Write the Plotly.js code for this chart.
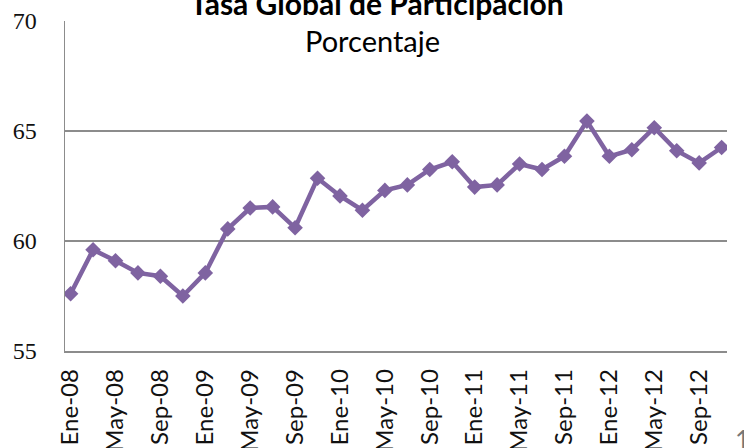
<!DOCTYPE html>
<html>
<head>
<meta charset="utf-8">
<script src="https://cdn.plot.ly/plotly-3.0.1.min.js"></script>
<style>html,body{margin:0;padding:0;background:#fff;}#chart{width:744px;height:448px;}</style>
</head>
<body>
<div id="chart"></div>
<script>
const months = ["Ene-08","Mar-08","May-08","Jul-08","Sep-08","Nov-08",
                "Ene-09","Mar-09","May-09","Jul-09","Sep-09","Nov-09",
                "Ene-10","Mar-10","May-10","Jul-10","Sep-10","Nov-10",
                "Ene-11","Mar-11","May-11","Jul-11","Sep-11","Nov-11",
                "Ene-12","Mar-12","May-12","Jul-12","Sep-12","Nov-12"];
const tasa = [57.6, 59.6, 59.1, 58.55, 58.4, 57.5,
              58.55, 60.55, 61.5, 61.55, 60.6, 62.85,
              62.05, 61.4, 62.3, 62.55, 63.25, 63.6,
              62.45, 62.55, 63.5, 63.25, 63.85, 65.45,
              63.85, 64.15, 65.15, 64.1, 63.55, 64.25];
const tickLabels = ["Ene-08","May-08","Sep-08","Ene-09","May-09","Sep-09","Ene-10","May-10",
                    "Sep-10","Ene-11","May-11","Sep-11","Ene-12","May-12","Sep-12"];
const yTicks = [55, 60, 65, 70];

const trace = {
  x: months, y: tasa, type: 'scatter', mode: 'lines+markers',
  line: {color: '#7f63a1', width: 4.5},
  marker: {symbol: 'diamond', size: 12, color: '#7f63a1'},
  hoverinfo: 'skip'
};

const layout = {
  width: 744, height: 448,
  margin: {l: 65, r: 17, t: 21, b: 97, pad: 0},
  paper_bgcolor: '#ffffff', plot_bgcolor: '#ffffff',
  showlegend: false,
  xaxis: {
    type: 'category', range: [-0.25, 29.24],
    tickmode: 'array', tickvals: tickLabels, ticktext: tickLabels,
    tickangle: -90, tickfont: {family: 'Lato, sans-serif', size: 24, color: '#111'},
    showgrid: false, zeroline: false, ticks: '',
    showline: true, linecolor: '#8c8c8c', linewidth: 1.5,
    ticklabelstandoff: 7
  },
  yaxis: {
    range: [55, 70], tickmode: 'array', tickvals: yTicks,
    tickfont: {family: '"Liberation Serif", "Times New Roman", serif', size: 24, color: '#111'},
    showgrid: true, gridcolor: '#8c8c8c', gridwidth: 1.5,
    zeroline: false, ticks: '',
    showline: true, linecolor: '#8c8c8c', linewidth: 1.5,
    ticklabelstandoff: 22
  },
  annotations: [
    {text: '<b>Tasa Global de Participación</b>', xref: 'paper', yref: 'paper',
     x: 0.471, y: 1.055, xanchor: 'center', yanchor: 'middle', showarrow: false,
     font: {family: 'Lato, sans-serif', size: 30, color: '#000'}},
    {text: 'Porcentaje', xref: 'paper', yref: 'paper',
     x: 0.465, y: 0.94, xanchor: 'center', yanchor: 'middle', showarrow: false,
     font: {family: 'Lato, sans-serif', size: 29, color: '#000'}},
    {text: '1', xref: 'paper', yref: 'paper',
     x: 1.009, y: -0.27, xanchor: 'left', yanchor: 'middle', showarrow: false,
     font: {family: 'Lato, sans-serif', size: 26, color: '#777'}}
  ]
};

Plotly.newPlot('chart', [trace], layout, {displayModeBar: false, staticPlot: true});
</script>
</body>
</html>
